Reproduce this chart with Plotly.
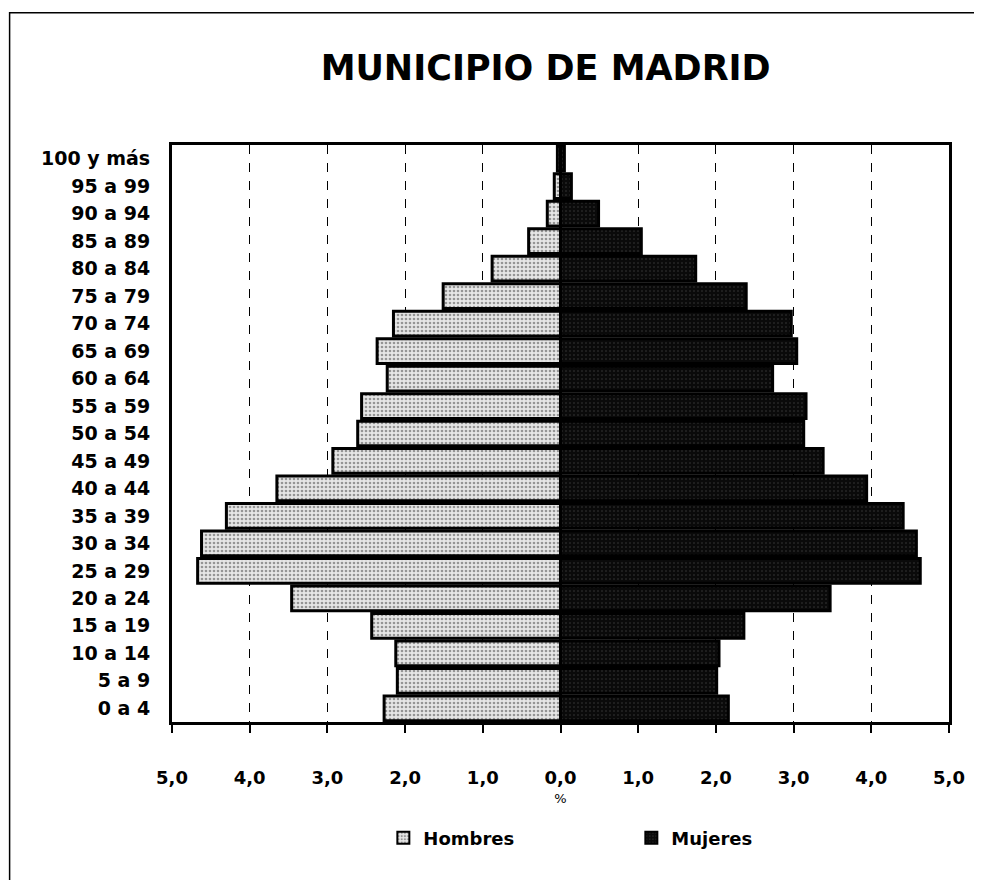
import plotly.graph_objects as go

# grupos de edad, de abajo hacia arriba
grupos = ['0 a 4', '5 a 9', '10 a 14', '15 a 19', '20 a 24', '25 a 29', '30 a 34',
          '35 a 39', '40 a 44', '45 a 49', '50 a 54', '55 a 59', '60 a 64', '65 a 69',
          '70 a 74', '75 a 79', '80 a 84', '85 a 89', '90 a 94', '95 a 99', '100 y más']

hombres = [2.27, 2.10, 2.12, 2.43, 3.46, 4.67, 4.62, 4.30, 3.65, 2.93, 2.61,
           2.56, 2.23, 2.36, 2.15, 1.51, 0.88, 0.41, 0.17, 0.08, 0.04]
mujeres = [2.16, 2.01, 2.04, 2.36, 3.47, 4.63, 4.58, 4.41, 3.94, 3.38, 3.13,
           3.16, 2.73, 3.04, 2.97, 2.39, 1.74, 1.04, 0.49, 0.14, 0.05]

tick_vals = [-5, -4, -3, -2, -1, 0, 1, 2, 3, 4, 5]
tick_text = ['5,0', '4,0', '3,0', '2,0', '1,0', '0,0', '1,0', '2,0', '3,0', '4,0', '5,0']

fuente = 'DejaVu Sans'

fig = go.Figure()
fig.add_trace(go.Bar(
    y=grupos, x=[-v for v in hombres], customdata=hombres, orientation='h',
    name='Hombres',
    marker=dict(color='#cfcfcf', line=dict(color='black', width=3),
                pattern=dict(shape='.', fgcolor='#444444', bgcolor='#e6e6e6',
                             size=4, solidity=0.35)),
    hovertemplate='%{y}: %{customdata:.2f}%<extra>Hombres</extra>'))
fig.add_trace(go.Bar(
    y=grupos, x=mujeres, orientation='h', name='Mujeres',
    marker=dict(color='#0a0a0a', line=dict(color='black', width=3),
                pattern=dict(shape='.', fgcolor='#6a6a6a', bgcolor='#0a0a0a',
                             size=4, solidity=0.12)),
    hovertemplate='%{y}: %{x:.2f}%<extra>Mujeres</extra>'))

# la pagina tiene 8px de margen en el body, por eso la figura es algo menor
fig.update_layout(
    width=974, height=872,
    barmode='relative', bargap=0.1,
    paper_bgcolor='white', plot_bgcolor='white',
    margin=dict(l=164, r=33, t=137, b=158),
    font=dict(family=fuente, color='black'),
    title=dict(text='<b>MUNICIPIO DE MADRID</b>', x=0.552, xanchor='center',
               y=0.932, yanchor='middle', font=dict(size=35, family=fuente)),
    legend=dict(orientation='h', x=0.272, y=-0.201, xanchor='left', yanchor='middle',
                entrywidth=203, entrywidthmode='pixels',
                font=dict(size=18, family=fuente, weight='bold'),
                itemsizing='constant'),
    shapes=[dict(type='rect', xref='paper', yref='paper',
                 x0=-0.209, x1=1.041, y0=-0.3, y1=1.229,
                 line=dict(color='black', width=1.5))],
)

fig.update_xaxes(
    range=[-5, 5], tickvals=tick_vals, ticktext=tick_text,
    showgrid=True, gridcolor='black', griddash='dash', gridwidth=1,
    zeroline=True, zerolinecolor='black', zerolinewidth=3,
    showline=True, linecolor='black', linewidth=3, mirror=True,
    ticks='outside', ticklen=8, tickwidth=2, tickcolor='black',
    ticklabelstandoff=29,
    tickfont=dict(size=18, family=fuente, weight='bold'),
    title=dict(text='%', font=dict(size=13), standoff=8),
)
fig.update_yaxes(
    categoryorder='array', categoryarray=grupos,
    showline=True, linecolor='black', linewidth=3, mirror=True,
    ticks='', ticklabelstandoff=15,
    tickfont=dict(size=19, family=fuente, weight='bold'),
)

fig.write_html('out.html')
